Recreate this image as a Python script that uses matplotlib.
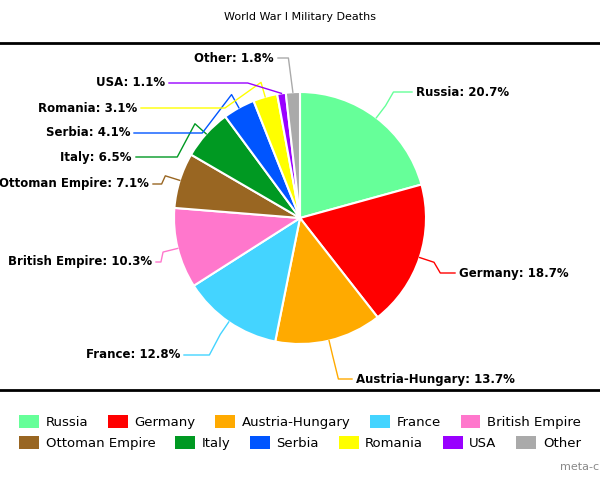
import matplotlib
matplotlib.use("Agg")
import matplotlib.pyplot as plt
import numpy as np
from matplotlib.lines import Line2D
from matplotlib.patches import Patch

countries = ["Russia", "Germany", "Austria-Hungary", "France", "British Empire",
             "Ottoman Empire", "Italy", "Serbia", "Romania", "USA", "Other"]
shares = [20.7, 18.7, 13.7, 12.8, 10.3, 7.1, 6.5, 4.1, 3.1, 1.1, 1.8]
colors = ["#66FF99", "#FF0000", "#FFAA00", "#44D4FF", "#FF77CC", "#996622",
          "#009922", "#0055FF", "#FFFF00", "#9900FF", "#AAAAAA"]
# label anchor positions in figure pixels (x, y from top), alignment
label_pos = [(416, 92, "left"), (459, 273, "left"), (356, 379, "left"),
             (180, 355, "right"), (152, 262, "right"), (149, 184, "right"),
             (132, 157, "right"), (130, 133, "right"), (137, 108, "right"),
             (165, 83, "right"), (274, 58, "right")]

W, H = 600, 480
fig = plt.figure(figsize=(6, 4.8), dpi=100)
cx, cy, r = 300, 218, 126
ax = fig.add_axes([(cx - r) / W, (H - cy - r) / H, 2 * r / W, 2 * r / H])
wedges, _ = ax.pie(shares, colors=colors, startangle=90, counterclock=False,
                   radius=1, wedgeprops=dict(edgecolor="white", linewidth=1.5))
ax.set_xlim(-1, 1); ax.set_ylim(-1, 1); ax.set_aspect("equal"); ax.axis("off")

total = sum(shares)
cum = 0
for i, (c, s) in enumerate(zip(countries, shares)):
    mid = 90 - (cum + s / 2) / total * 360
    cum += s
    a = np.deg2rad(mid)
    ex, ey = np.cos(a), np.sin(a)
    lx, ly, ha = label_pos[i]
    fig.text(lx / W, 1 - ly / H, f"{c}: {s}%",
             ha=ha, va="center", fontsize=8.5, fontweight="bold")
    off = -4 if ha == "left" else 4
    tx, ty = (lx + off - cx) / r, (cy - ly) / r
    k = 1.12 if s > 3 else 1.0
    bx, by = ex * k, ey * k
    # bend point: move out radially then horizontally toward label
    mx = bx + (tx - bx) * 0.25 if abs(ty - by) > 0.05 else bx
    ax.plot([ex, bx, tx - (tx - bx) * 0.7, tx], [ey, by, ty, ty],
            color=colors[i], lw=1, clip_on=False, solid_joinstyle="round")

fig.text(0.5, 1 - 17 / H, "World War I Military Deaths", ha="center", va="center", fontsize=8)
fig.add_artist(Line2D([0, 1], [1 - 43 / H] * 2, color="black", lw=2, transform=fig.transFigure))
fig.add_artist(Line2D([0, 1], [1 - 390 / H] * 2, color="black", lw=2, transform=fig.transFigure))

h1 = [Patch(facecolor=colors[i], label=countries[i]) for i in range(5)]
h2 = [Patch(facecolor=colors[i], label=countries[i]) for i in range(5, 11)]
for hs, y in ((h1, 422), (h2, 443)):
    fig.legend(handles=hs, loc="center", bbox_to_anchor=(0.5, 1 - y / H), ncol=len(hs),
               frameon=False, fontsize=9.5, handlelength=1.5, handleheight=1.1,
               columnspacing=1.5, handletextpad=0.5, borderpad=0)
fig.text(560 / W, 1 - 467 / H, "meta-chart.com", fontsize=8, color="#888888", va="center")
fig.savefig("out.png", dpi=100)
